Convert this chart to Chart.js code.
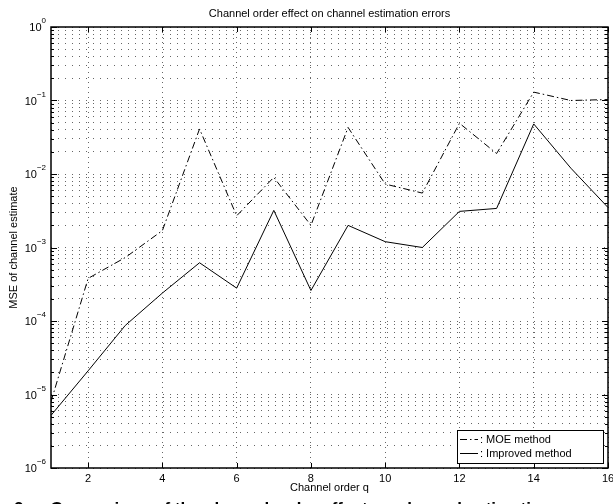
<!DOCTYPE html>
<html>
<head>
<meta charset="utf-8">
<script src="https://cdn.jsdelivr.net/npm/chart.js@4/dist/chart.umd.min.js"></script>
<style>
  html, body { margin: 0; padding: 0; background: #fff; overflow: hidden; }
  #wrap { position: relative; width: 613px; height: 504px; overflow: hidden; }
  #caption {
    position: absolute; left: 14px; top: 500px; white-space: nowrap;
    font: bold 17px/17px "Liberation Sans", Arial, sans-serif; color: #000;
  }
  #caption span { margin-left: 22px; }
</style>
</head>
<body>
<div id="wrap">
  <canvas id="chart" width="613" height="504"></canvas>
  <div id="caption">2.<span>Comparison of the channel order effect on channel estimation errors</span></div>
</div>
<script>
// channel order q
const orders = [1, 2, 3, 4, 5, 6, 7, 8, 9, 10, 11, 12, 13, 14, 15, 16];
// MSE of channel estimate
const moeMse = [8e-6, 3.8e-4, 7.3e-4, 1.7e-3, 4.1e-2, 2.7e-3, 9.0e-3, 2.0e-3,
                4.3e-2, 7.3e-3, 5.5e-3, 4.9e-2, 1.9e-2, 1.3e-1, 1.0e-1, 1.03e-1];
const improvedMse = [5.2e-6, 2.1e-5, 8.7e-5, 2.4e-4, 6.2e-4, 2.8e-4, 3.2e-3, 2.6e-4,
                     2.0e-3, 1.2e-3, 1.0e-3, 3.1e-3, 3.4e-3, 4.8e-2, 1.2e-2, 3.5e-3];

const xTicks = [2, 4, 6, 8, 10, 12, 14, 16];
const yExponents = [-6, -5, -4, -3, -2, -1, 0];
const minorFactors = [2, 3, 4, 5, 6, 7, 8, 9];
const legendLabels = [': MOE method', ': Improved method'];

const FONT = '"Liberation Sans", Arial, sans-serif';
const MOE_DASH = [7, 3, 1.5, 3];

const toPoints = (ys) => orders.map((q, i) => ({ x: q, y: ys[i] }));

// matlab-ish frame: box, inward ticks, labels, legend
const framePlugin = {
  id: 'frame',
  afterDraw(chart) {
    const { ctx, chartArea: a, scales: { x, y } } = chart;
    ctx.save();
    ctx.strokeStyle = '#000';
    ctx.lineWidth = 1;

    // tick marks (inside the box, all four sides)
    ctx.beginPath();
    xTicks.forEach((v) => {
      const px = Math.round(x.getPixelForValue(v)) + 0.5;
      ctx.moveTo(px, a.bottom); ctx.lineTo(px, a.bottom - 5);
      ctx.moveTo(px, a.top); ctx.lineTo(px, a.top + 5);
    });
    yExponents.forEach((e) => {
      const py = Math.round(y.getPixelForValue(10 ** e)) + 0.5;
      ctx.moveTo(a.left, py); ctx.lineTo(a.left + 6, py);
      ctx.moveTo(a.right, py); ctx.lineTo(a.right - 6, py);
      if (e === 0) return;
      minorFactors.forEach((k) => {
        const pm = Math.round(y.getPixelForValue(k * 10 ** e)) + 0.5;
        ctx.moveTo(a.left, pm); ctx.lineTo(a.left + 3, pm);
        ctx.moveTo(a.right, pm); ctx.lineTo(a.right - 3, pm);
      });
    });
    ctx.stroke();

    // box
    ctx.lineWidth = 1.5;
    ctx.strokeRect(a.left, a.top, a.right - a.left, a.bottom - a.top);

    // x tick labels
    ctx.fillStyle = '#000';
    ctx.font = '11px ' + FONT;
    ctx.textAlign = 'center';
    ctx.textBaseline = 'middle';
    xTicks.forEach((v) => ctx.fillText(String(v), x.getPixelForValue(v), a.bottom + 11));

    // y tick labels: 10 with superscript exponent
    yExponents.forEach((e) => {
      const py = y.getPixelForValue(10 ** e);
      const exp = e === 0 ? '0' : '\u2212' + (-e);
      ctx.font = '8px ' + FONT;
      const ew = ctx.measureText(exp).width;
      ctx.textAlign = 'left';
      ctx.textBaseline = 'middle';
      const right = a.left - 5;
      ctx.fillText(exp, right - ew, py - 6);
      ctx.font = '11px ' + FONT;
      ctx.textAlign = 'right';
      ctx.fillText('10', right - ew, py + 1);
    });

    // title and axis titles
    ctx.textAlign = 'center';
    ctx.textBaseline = 'middle';
    ctx.font = '11px ' + FONT;
    const cx = (a.left + a.right) / 2;
    ctx.fillText('Channel order effect on channel estimation errors', cx, 13.5);
    ctx.fillText('Channel order q', cx, 488);
    ctx.save();
    ctx.translate(14, (a.top + a.bottom) / 2);
    ctx.rotate(-Math.PI / 2);
    ctx.fillText('MSE of channel estimate', 0, 0);
    ctx.restore();

    // legend box, bottom right inside the axes
    const lx = 457, ly = 430, lw = 146, lh = 33;
    ctx.fillStyle = '#fff';
    ctx.fillRect(lx, ly, lw, lh);
    ctx.lineWidth = 1;
    ctx.strokeRect(lx + 0.5, ly + 0.5, lw, lh);
    const rows = [ly + 9.5, ly + 23.5];
    chart.data.datasets.forEach((ds, i) => {
      ctx.beginPath();
      ctx.setLineDash(ds.borderDash || []);
      ctx.strokeStyle = '#000';
      ctx.moveTo(lx + 3, rows[i]);
      ctx.lineTo(lx + 21, rows[i]);
      ctx.stroke();
      ctx.setLineDash([]);
      ctx.fillStyle = '#000';
      ctx.font = '11px ' + FONT;
      ctx.textAlign = 'left';
      ctx.textBaseline = 'middle';
      ctx.fillText(legendLabels[i], lx + 23, rows[i]);
    });
    ctx.restore();
  }
};

new Chart(document.getElementById('chart'), {
  type: 'line',
  data: {
    datasets: [
      {
        label: 'MOE method',
        data: toPoints(moeMse),
        borderColor: '#000',
        borderWidth: 1,
        borderDash: MOE_DASH,
        pointRadius: 0,
        fill: false,
        tension: 0,
      },
      {
        label: 'Improved method',
        data: toPoints(improvedMse),
        borderColor: '#000',
        borderWidth: 1,
        pointRadius: 0,
        fill: false,
        tension: 0,
      },
    ],
  },
  options: {
    responsive: false,
    animation: false,
    layout: { padding: { left: 51, top: 27, right: 5, bottom: 36 } },
    plugins: {
      legend: { display: false },
      title: { display: false },
      tooltip: { enabled: false },
    },
    scales: {
      x: {
        type: 'linear',
        min: 1,
        max: 16,
        afterBuildTicks: (scale) => { scale.ticks = xTicks.map((v) => ({ value: v })); },
        ticks: { display: false },
        grid: { color: '#666', lineWidth: 1, drawTicks: false },
        border: { display: false, dash: [1, 4] },
      },
      y: {
        type: 'logarithmic',
        min: 1e-6,
        max: 1,
        afterBuildTicks: (scale) => {
          const t = [];
          yExponents.forEach((e) => {
            t.push({ value: 10 ** e });
            if (e < 0) minorFactors.forEach((k) => t.push({ value: k * 10 ** e }));
          });
          scale.ticks = t;
        },
        ticks: { display: false },
        grid: { color: '#666', lineWidth: 1, drawTicks: false },
        border: { display: false, dash: [1, 6] },
      },
    },
  },
  plugins: [framePlugin],
});
</script>
</body>
</html>
